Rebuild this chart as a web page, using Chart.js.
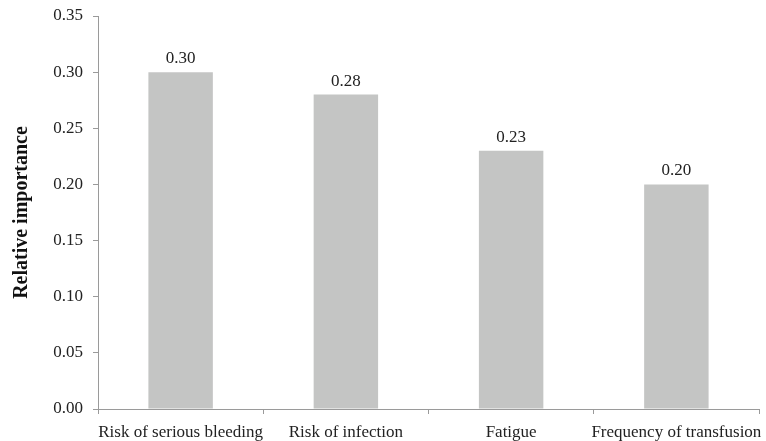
<!DOCTYPE html>
<html>
<head>
<meta charset="utf-8">
<script src="https://cdn.jsdelivr.net/npm/chart.js@4"></script>
<style>
  html, body { margin: 0; padding: 0; background: #fff; }
  #wrap { width: 766px; height: 441px; }
</style>
</head>
<body>
<div id="wrap"><canvas id="canvas1"></canvas></div>
<script>
const categories = ["Risk of serious bleeding", "Risk of infection", "Fatigue", "Frequency of transfusion"];
const importance = [0.30, 0.28, 0.23, 0.20];
const yTicks = [0, 0.05, 0.10, 0.15, 0.20, 0.25, 0.30, 0.35];

const fontFamily = "'Liberation Serif', 'Times New Roman', serif";

// labels on top of the bars
const barLabels = {
  id: "barLabels",
  afterDatasetsDraw(chart) {
    const ctx = chart.ctx;
    const meta = chart.getDatasetMeta(0);
    ctx.save();
    ctx.font = "17px " + fontFamily;
    ctx.fillStyle = "#222";
    ctx.textAlign = "center";
    ctx.textBaseline = "bottom";
    meta.data.forEach((bar, i) => {
      ctx.fillText(importance[i].toFixed(2), bar.x, bar.y - 5);
    });
    ctx.restore();
  }
};

new Chart(document.getElementById("canvas1"), {
  type: "bar",
  data: {
    labels: categories,
    datasets: [{
      data: importance,
      backgroundColor: "#c4c5c4",
      borderWidth: 0,
      categoryPercentage: 1,
      barPercentage: 0.39
    }]
  },
  options: {
    responsive: true,
    maintainAspectRatio: false,
    animation: false,
    layout: { padding: { top: 16, right: 7, left: 0, bottom: 0 } },
    plugins: {
      legend: { display: false },
      tooltip: { enabled: false }
    },
    scales: {
      x: {
        offset: true,
        afterFit: s => { s.height = 32; s.paddingLeft = 0; s.paddingRight = 0; },
        border: { color: "#9a9a9a", width: 1 },
        grid: { offset: true, drawOnChartArea: false, tickLength: 5, color: "#9a9a9a" },
        ticks: { color: "#222", font: { family: fontFamily, size: 17 }, padding: 8, maxRotation: 0, autoSkip: false }
      },
      y: {
        min: 0,
        max: 0.35,
        afterFit: s => { s.width = 98; s.paddingTop = 0; s.paddingBottom = 0; },
        afterBuildTicks: s => { s.ticks = yTicks.map(v => ({ value: v })); },
        border: { color: "#9a9a9a", width: 1 },
        grid: { drawOnChartArea: false, tickLength: 5, color: "#9a9a9a" },
        ticks: {
          color: "#222",
          font: { family: fontFamily, size: 17 },
          padding: 10,
          callback: v => Number(v).toFixed(2)
        },
        title: {
          display: true,
          text: "Relative importance",
          color: "#111",
          font: { family: fontFamily, size: 20, weight: "bold" },
          padding: { top: 10, bottom: 0 }
        }
      }
    }
  },
  plugins: [barLabels]
});
</script>
</body>
</html>
